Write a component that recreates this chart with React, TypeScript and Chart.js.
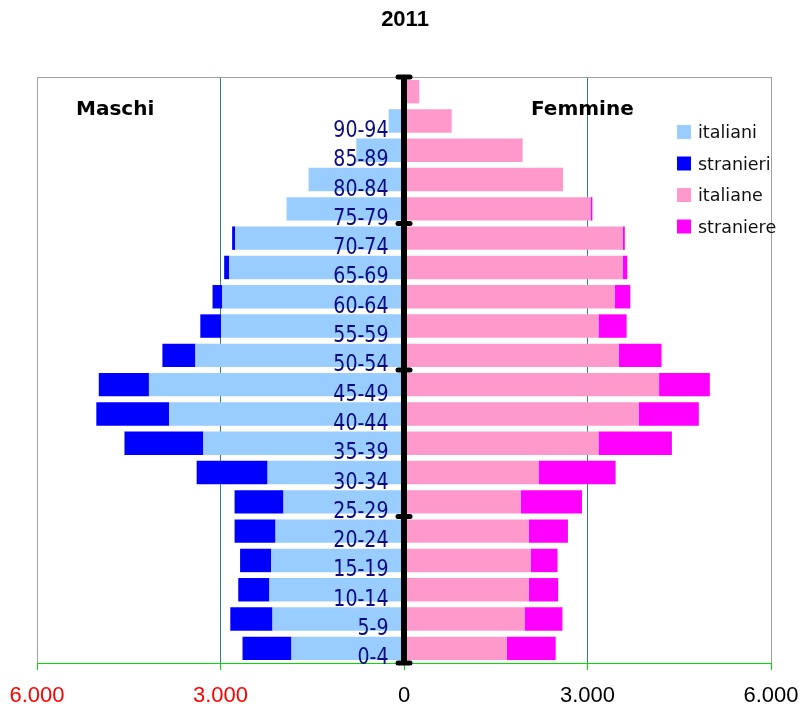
import React, { useEffect, useRef } from 'react';
import { Chart, registerables } from 'chart.js';

Chart.register(...registerables);

const chartTitle = '2011';
const maleHeading = 'Maschi';
const femaleHeading = 'Femmine';

const ageGroups = [
  '0-4', '5-9', '10-14', '15-19', '20-24', '25-29', '30-34', '35-39', '40-44', '45-49',
  '50-54', '55-59', '60-64', '65-69', '70-74', '75-79', '80-84', '85-89', '90-94', '',
];

const maleItalians = [1840, 2150, 2200, 2170, 2100, 1970, 2230, 3280, 3840, 4170, 3410, 2990, 2970, 2860, 2760, 1920, 1560, 780, 250, 50];
const maleForeigners = [800, 690, 510, 510, 670, 800, 1160, 1290, 1190, 820, 540, 340, 160, 80, 50, 0, 0, 0, 0, 0];
const femaleItalians = [1680, 1970, 2040, 2070, 2040, 1910, 2200, 3180, 3840, 4170, 3510, 3180, 3450, 3580, 3580, 3050, 2600, 1940, 780, 250];
const femaleForeigners = [800, 620, 480, 440, 640, 1000, 1260, 1200, 980, 830, 700, 460, 250, 70, 30, 30, 0, 0, 0, 0];

const seriesNames = ['italiani', 'stranieri', 'italiane', 'straniere'];
const seriesColors = ['#99CCFF', '#0000FF', '#FF99CC', '#FF00FF'];

const xMin = -6000;
const xMax = 6000;
const xStep = 3000;

function fmt(v: number): string {
  return String(Math.abs(v)).replace(/\B(?=(\d{3})+(?!\d))/g, '.');
}

const overlayPlugin = {
  id: 'overlay',
  afterDatasetsDraw(chart: any) {
    const { ctx, chartArea: a, scales } = chart;
    const xs = scales.x;
    const ys = scales.y;
    const zx = xs.getPixelForValue(0);
    ctx.save();

    // top border
    ctx.strokeStyle = '#A0A0A0';
    ctx.lineWidth = 1;
    ctx.beginPath();
    ctx.moveTo(a.left, Math.round(a.top) + 0.5);
    ctx.lineTo(a.right, Math.round(a.top) + 0.5);
    ctx.stroke();

    // age labels
    ctx.fillStyle = '#0C0C80';
    ctx.font = '19px "DejaVu Sans"';
    ctx.textAlign = 'right';
    ctx.textBaseline = 'alphabetic';
    ageGroups.forEach((lab, i) => {
      if (!lab) return;
      const cy = ys.getPixelForValue(i);
      ctx.save();
      ctx.translate(zx - 15.5, cy + 16);
      ctx.scale(1, 1.25);
      ctx.fillText(lab, 0, 0);
      ctx.restore();
    });

    // central black axis
    ctx.strokeStyle = '#000000';
    ctx.lineWidth = 6;
    ctx.lineCap = 'butt';
    ctx.beginPath();
    ctx.moveTo(zx, a.top);
    ctx.lineTo(zx, a.bottom);
    ctx.stroke();
    ctx.lineWidth = 5;
    ctx.lineCap = 'round';
    for (let k = 0; k <= 4; k++) {
      const yy = a.top + ((a.bottom - a.top) * k) / 4;
      ctx.beginPath();
      ctx.moveTo(zx - 6, yy);
      ctx.lineTo(zx + 6, yy);
      ctx.stroke();
    }

    // headings
    ctx.fillStyle = '#000000';
    ctx.font = 'bold 20px "DejaVu Sans"';
    ctx.textAlign = 'left';
    ctx.fillText(maleHeading, 76, 115);
    ctx.fillText(femaleHeading, 531, 115);

    // title
    ctx.font = 'bold 22px "Liberation Sans"';
    ctx.textAlign = 'center';
    ctx.fillText(chartTitle, 405, 26);

    // legend
    ctx.font = '17.5px "DejaVu Sans"';
    ctx.textAlign = 'left';
    seriesNames.forEach((name, i) => {
      const yc = 132 + i * 31.5;
      ctx.fillStyle = seriesColors[i];
      ctx.fillRect(677, yc - 7, 14, 14);
      ctx.fillStyle = '#111111';
      ctx.fillText(name, 698, yc + 6);
    });

    ctx.restore();
  },
};

export default function App() {
  const canvasRef = useRef<HTMLCanvasElement | null>(null);

  useEffect(() => {
    if (!canvasRef.current) return;
    const chart = new Chart(canvasRef.current, {
      type: 'bar',
      data: {
        labels: ageGroups,
        datasets: [
          { label: seriesNames[0], data: maleItalians.map((v) => -v), backgroundColor: seriesColors[0] },
          { label: seriesNames[1], data: maleForeigners.map((v) => -v), backgroundColor: seriesColors[1] },
          { label: seriesNames[2], data: femaleItalians, backgroundColor: seriesColors[2] },
          { label: seriesNames[3], data: femaleForeigners, backgroundColor: seriesColors[3] },
        ],
      },
      options: {
        indexAxis: 'y',
        responsive: false,
        maintainAspectRatio: false,
        animation: false,
        devicePixelRatio: 1,
        layout: { padding: { top: 77, left: 37, right: 30, bottom: 0 } },
        datasets: { bar: { categoryPercentage: 0.8, barPercentage: 1.0, borderWidth: 0 } },
        plugins: {
          legend: { display: false },
          title: { display: false },
          tooltip: { enabled: false },
        },
        scales: {
          x: {
            type: 'linear',
            stacked: true,
            min: xMin,
            max: xMax,
            ticks: {
              stepSize: xStep,
              autoSkip: false,
              maxRotation: 0,
              padding: 13,
              color: (c: any) => (c.tick && c.tick.value < 0 ? '#FF0000' : '#000000'),
              font: { family: '"Liberation Sans", Arial, sans-serif', size: 22 },
              callback: (v: any) => fmt(Number(v)),
            },
            grid: {
              color: (c: any) => (c.tick && Math.abs(c.tick.value) === xMax ? '#A0A0A0' : '#308080'),
              tickColor: '#00E000',
              tickLength: 7,
              lineWidth: 1,
            },
            border: { color: '#00E000', width: 1 },
            afterFit: (s: any) => {
              s.height = 44;
              s.paddingLeft = 0;
              s.paddingRight = 0;
            },
          },
          y: {
            type: 'category',
            stacked: true,
            reverse: true,
            display: false,
          },
        },
      },
      plugins: [overlayPlugin],
    } as any);
    return () => chart.destroy();
  }, []);

  return (
    <div style={{ position: 'absolute', left: 0, top: 0, width: 801, height: 707, background: '#fff' }}>
      <canvas ref={canvasRef} width={801} height={707} style={{ width: 801, height: 707, display: 'block' }} />
    </div>
  );
}
